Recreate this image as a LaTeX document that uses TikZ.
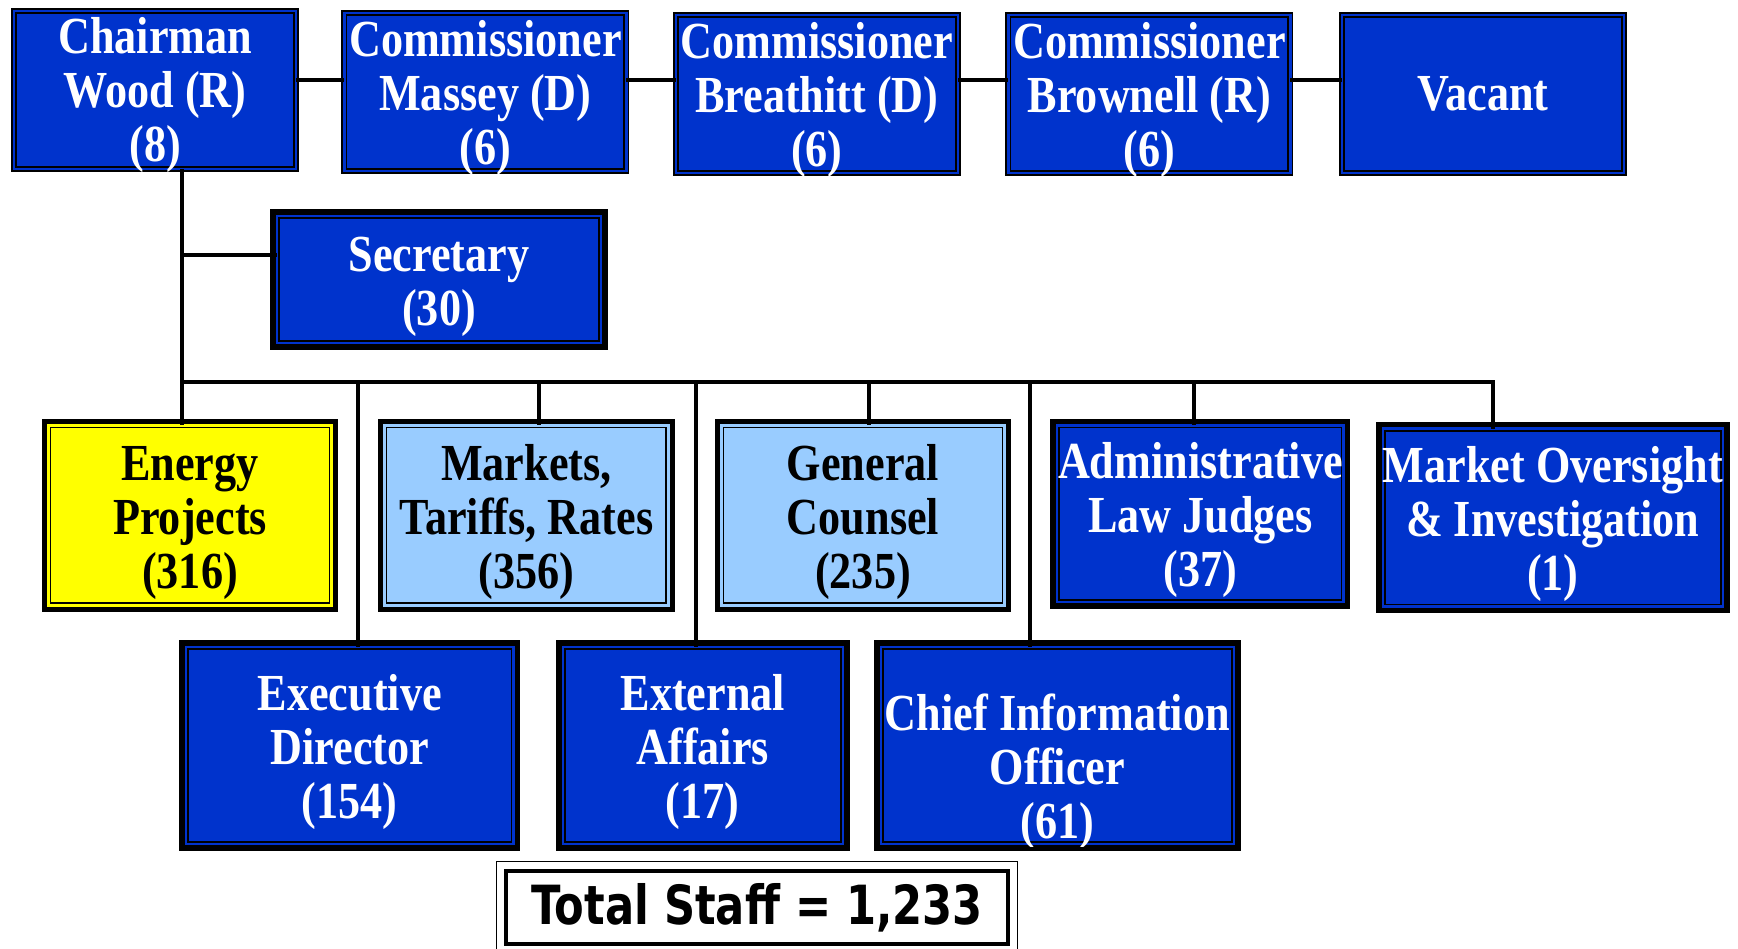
\documentclass[tikz,border=0pt]{standalone}
\usepackage{fontspec}
\setmainfont{Liberation Serif}[FakeStretch=0.85]
\newfontfamily\totalfont{DejaVu Sans}[FakeStretch=0.8]
\definecolor{fercblue}{HTML}{0033CC}
\definecolor{paleblue}{HTML}{99CCFF}
\definecolor{brightyellow}{HTML}{FFFF00}
\newcommand\lift{\rule{0pt}{24.5pt}}
\newcommand\nodepth[1]{\raisebox{0pt}[\height][0pt]{#1}}
\tikzset{
  unit/.style={draw=black, line width=0.9pt, double distance=1.2pt, inner sep=0pt, outer sep=0pt,
    align=center, font=\bfseries\fontsize{26}{27}\selectfont},
  bluebox/.style={unit, fill=fercblue, double=fercblue, text=white},
  palebox/.style={unit, fill=paleblue, double=paleblue},
  yellowbox/.style={unit, fill=brightyellow, double=brightyellow},
  topbox/.style={bluebox, minimum width=141pt, minimum height=79pt},
  link/.style={line width=2pt}
}
\begin{document}
\begin{tikzpicture}[x=1pt,y=-1pt]
  \useasboundingbox (0,0) rectangle (869,474);
  % commission
  \node[topbox] (chair) at (77.6,44.9) {Chairman\\Wood (R)\\\nodepth{(8)}};
  \node[topbox] (mass) at (242.7,46.0) {Commissioner\\Massey (D)\\\nodepth{(6)}};
  \node[topbox] (breat) at (408.4,47.1) {Commissioner\\Breathitt (D)\\\nodepth{(6)}};
  \node[topbox] (brown) at (574.7,47.1) {Commissioner\\Brownell (R)\\\nodepth{(6)}};
  \node[topbox] (vac) at (741.5,47.1) {Vacant};
  \node[bluebox, minimum width=162pt, minimum height=63.4pt] (sec) at (219.5,139.7) {\lift Secretary\\(30)};
  % offices
  \node[yellowbox, minimum width=141.6pt, minimum height=90pt] (ep) at (95.0,257.7) {\lift Energy\\Projects\\(316)};
  \node[palebox, minimum width=142pt, minimum height=90pt] (mtr) at (263.2,257.7) {\lift Markets,\\Tariffs, Rates\\(356)};
  \node[palebox, minimum width=141.6pt, minimum height=90pt] (gc) at (431.5,257.7) {\lift General\\Counsel\\(235)};
  \node[bluebox, minimum width=143.2pt, minimum height=88.4pt] (alj) at (600.2,256.9) {\lift Administrative\\Law Judges\\(37)};
  \node[bluebox, minimum width=169.8pt, minimum height=89pt] (moi) at (776.4,258.8) {\lift Market Oversight\\\& Investigation\\(1)};
  \node[bluebox, minimum width=163.7pt, minimum height=98.3pt] (ed) at (174.9,372.7) {\lift Executive\\Director\\(154)};
  \node[bluebox, minimum width=140pt, minimum height=98.3pt] (ea) at (351.4,372.7) {\lift External\\Affairs\\(17)};
  \node[bluebox, minimum width=176.5pt, minimum height=98.3pt,
    label={[text=white, align=center, inner sep=0pt, yshift=-13.3pt,
      font=\bfseries\fontsize{26}{27}\selectfont]center:Chief Information\\Officer\\(61)}] (cio) at (528.7,372.7) {};
  % heavy outer frames
  \foreach \n in {sec,ep,mtr,gc,alj,moi,ed,ea,cio}
    \draw[line width=2pt] ([shift={(-2.4pt,2.4pt)}]\n.north west) rectangle ([shift={(2.4pt,-2.4pt)}]\n.south east);
  % connectors
  \coordinate (hline) at (0,39.9);
  \foreach \a/\b in {chair/mass,mass/breat,breat/brown,brown/vac}
    \draw[link] (\a.east |- hline) -- (\b.west |- hline);
  \coordinate (bus) at (90.9,191.2);
  \coordinate (busend) at (746.5,191.2);
  \coordinate (secjoint) at (90.9,127.5);
  \draw[link] (chair.south -| bus) -- (ep.north -| bus);
  \draw[link] (secjoint) -- (secjoint -| sec.west);
  \draw[link] (bus) -- (busend) -- (busend |- moi.north);
  \foreach \x/\n in {179.0/ed,269.3/mtr,348.0/ea,434.5/gc,514.9/cio,596.9/alj}
    \draw[link] (\x,191.2) -- (\x,191.2 |- \n.north);
  % total
  \node[draw=black, line width=2.4pt, fill=white, inner sep=0pt, minimum width=251pt, minimum height=36.5pt,
    font=\totalfont\bfseries\fontsize{27}{30}\selectfont] (total) at (378.5,453.75) {Total Staff = 1,233};
  \draw[line width=0.8pt] ([shift={(-3.6pt,3.6pt)}]total.north west) rectangle ([shift={(3.6pt,-3.6pt)}]total.south east);
\end{tikzpicture}
\end{document}
